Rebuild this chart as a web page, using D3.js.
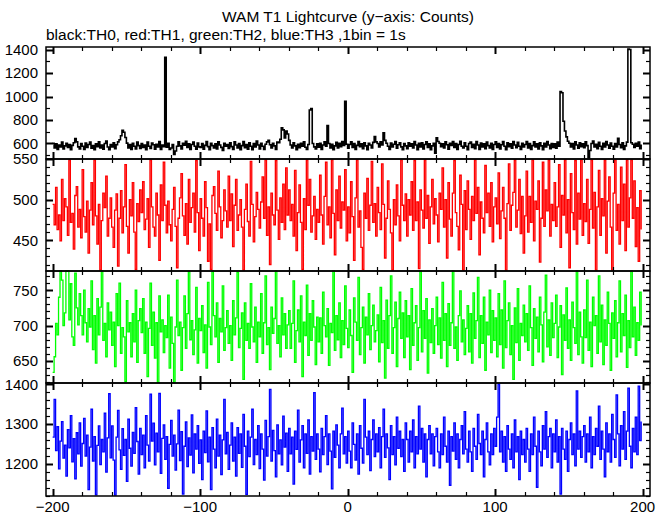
<!DOCTYPE html>
<html><head><meta charset="utf-8">
<script src="https://cdn.jsdelivr.net/npm/d3@7/dist/d3.min.js"></script>
<style>body{margin:0;background:#fff} text{font-family:"Liberation Sans",Arial,Helvetica,sans-serif;fill:#000}</style>
</head><body><svg id="c" width="669" height="515"></svg>
<script>
// time bins (1 bin = 1 s), start of each bin
const binStart = -200;
const titleText = "WAM T1 Lightcurve (y\u2212axis: Counts)";
const subtitleText = "black:TH0, red:TH1, green:TH2, blue:TH3 ,1bin = 1s";

const th0 = [
600,560,595,548,585,570,610,552,578,600,565,590,545,582,605,640,612,570,552,598,
575,548,602,565,590,610,558,580,545,596,572,612,560,585,550,598,620,568,545,590,
570,605,555,588,612,630,665,712,695,650,602,560,590,548,600,575,552,610,580,556,
598,565,585,545,610,575,556,602,588,550,592,570,615,548,586,572,1335,566,600,548,
560,590,505,535,575,612,578,552,600,584,618,565,595,548,590,610,575,550,602,570,
565,598,550,582,615,572,545,600,580,560,595,552,612,585,565,540,600,575,590,556,
605,572,548,612,585,560,598,545,580,615,562,590,550,605,575,545,598,570,620,585,
552,600,575,548,592,612,625,588,560,600,578,548,610,605,635,732,715,645,705,680,
625,585,560,605,578,545,592,562,600,575,612,566,548,590,885,898,598,570,552,595,
566,600,548,585,612,575,752,598,560,592,545,578,608,560,600,572,615,582,958,592,
558,590,612,565,598,548,582,615,572,595,555,605,578,545,600,586,560,608,658,612,
598,570,612,585,690,625,600,575,548,602,568,592,615,558,588,605,570,545,598,578,
555,605,575,595,560,615,585,545,600,570,605,552,590,612,565,596,545,578,600,515,
648,615,600,572,595,560,612,588,550,600,582,615,565,598,548,590,618,575,560,605,
575,545,598,610,565,592,555,615,585,548,602,570,595,555,610,580,560,600,548,590,
612,565,598,552,588,615,575,545,605,572,595,558,615,585,562,608,575,548,600,570,
590,615,560,598,548,580,612,568,595,552,605,578,545,600,570,615,586,555,598,565,
595,558,610,575,1042,1032,788,705,655,618,600,570,598,552,612,585,558,605,572,595,
562,612,580,478,538,598,620,570,592,555,608,575,548,600,570,615,585,558,602,575,
550,598,568,642,590,562,605,548,578,610,1406,1402,605,592,565,600,575,610,555,590];

const th1 = [
494,469,515,463,481,449,525,474,501,491,456,549,472,483,439,505,516,466,488,453,
537,479,460,498,434,487,521,469,549,480,445,494,413,474,508,490,529,455,477,502,
466,441,487,507,418,477,511,459,491,543,467,434,500,480,521,460,414,495,473,512,
484,522,463,476,501,441,549,491,466,455,508,481,425,518,474,546,493,459,498,469,
449,488,515,467,416,477,502,532,480,456,495,445,525,472,490,508,460,548,484,437,
501,477,455,522,490,424,470,414,505,516,483,462,535,491,453,474,512,486,466,529,
474,507,442,493,525,462,481,500,466,413,488,519,473,455,547,494,448,479,509,488,
465,497,528,477,549,456,491,420,508,481,469,548,487,451,502,472,519,463,539,481,
512,474,494,455,536,437,484,518,472,414,501,463,549,493,525,460,480,504,451,488,
472,530,481,445,504,546,469,491,453,549,483,432,512,474,529,465,497,487,537,449,
491,459,522,479,425,502,549,466,486,441,414,508,477,526,462,493,547,472,495,455,
515,484,463,544,494,428,477,523,488,459,413,500,469,518,480,449,549,493,474,507,
455,500,481,522,462,548,474,497,415,512,487,465,549,477,505,446,491,525,470,501,
481,448,508,488,539,466,500,428,521,476,455,508,548,484,467,438,530,494,413,511,
463,523,488,451,504,474,549,483,515,432,497,477,459,542,484,508,467,521,448,491,
502,470,533,452,486,515,477,413,495,544,462,493,509,549,466,487,525,458,504,434,
480,535,460,504,472,549,449,498,488,523,423,477,546,467,512,486,549,455,494,474,
521,467,491,543,441,505,481,549,459,500,416,532,484,463,548,445,508,476,549,456,
495,473,525,446,488,549,465,509,413,491,536,456,501,480,549,434,498,528,466,413,
508,549,462,494,445,540,474,519,437,549,466,502,549,477,523,442,490,424,511,463];

const th2 = [
634,656,703,687,740,777,764,700,718,777,777,708,759,684,672,774,725,701,745,714,
687,750,704,677,724,698,763,666,714,647,738,687,726,777,679,703,656,732,694,719,
672,705,642,745,700,760,661,697,684,621,735,691,704,656,717,677,750,648,707,724,
690,738,661,705,628,696,760,672,719,654,704,620,742,691,708,662,700,683,743,640,
712,675,620,698,764,686,705,637,697,742,668,717,776,680,707,659,694,754,647,710,
693,728,662,701,640,761,698,673,777,714,684,732,648,710,691,756,665,697,721,675,
700,651,735,687,711,775,669,696,718,624,732,679,703,668,759,698,677,726,648,705,
684,745,661,704,770,673,697,638,726,689,710,777,675,700,656,739,687,717,668,701,
721,668,703,763,648,693,722,677,742,628,705,686,757,658,717,679,735,698,645,712,
677,711,661,747,700,684,724,644,703,690,777,665,714,680,732,655,707,673,756,696,
669,722,686,634,739,705,679,768,659,697,726,647,712,687,745,666,700,729,677,693,
715,649,754,676,707,626,736,668,714,770,661,697,733,642,710,747,682,718,655,735,
684,714,638,752,672,704,728,651,697,777,663,721,682,738,633,708,676,724,661,700,
740,673,711,654,761,679,717,642,731,672,704,777,668,698,651,714,749,677,708,659,
696,728,663,717,647,746,682,707,768,655,714,675,740,637,705,687,750,662,721,679,
711,656,745,673,722,640,763,669,707,732,659,700,624,725,676,752,651,703,686,729,
677,717,665,756,697,644,724,682,712,663,740,701,649,719,771,670,708,658,732,683,
703,743,655,698,728,631,715,679,753,668,708,651,733,697,675,777,659,719,684,647,
722,683,764,665,705,642,740,700,714,661,770,677,729,645,708,672,747,703,637,718,
682,735,656,704,763,663,717,686,743,641,707,669,777,684,726,658,704,679,747,700];

const th3 = [
1267,1362,1233,1293,1187,1257,1306,1214,1247,1169,1286,1240,1321,1205,1263,1162,1278,1225,1303,1194,
1251,1314,1219,1272,1135,1242,1337,1207,1268,1122,1246,1295,1198,1261,1230,1327,1179,1265,1376,1215,
1295,1209,1121,1267,1334,1235,1186,1288,1221,1261,1156,1312,1239,1194,1279,1226,1341,1256,1174,1289,
1223,1272,1190,1321,1247,1207,1375,1257,1302,1197,1277,1230,1377,1176,1264,1298,1211,1268,1138,1249,
1309,1219,1272,1184,1250,1335,1208,1281,1124,1244,1305,1193,1265,1222,1323,1177,1275,1237,1296,1201,
1260,1160,1282,1228,1333,1205,1267,1135,1291,1237,1190,1312,1219,1272,1173,1260,1362,1225,1279,1186,
1247,1303,1207,1267,1169,1291,1226,1275,1191,1324,1244,1123,1282,1218,1267,1337,1198,1261,1223,1296,
1188,1275,1237,1159,1309,1219,1268,1387,1207,1284,1233,1167,1298,1225,1260,1197,1320,1242,1277,1181,
1289,1225,1267,1149,1282,1236,1335,1204,1260,1296,1190,1275,1226,1310,1174,1268,1232,1379,1211,1275,
1237,1180,1289,1223,1268,1321,1198,1275,1232,1137,1282,1216,1298,1247,1190,1275,1340,1225,1268,1202,
1282,1232,1190,1303,1249,1209,1275,1174,1296,1239,1202,1362,1267,1223,1282,1183,1261,1310,1218,1275,
1230,1291,1190,1268,1337,1216,1275,1240,1160,1296,1223,1268,1197,1317,1239,1282,1218,1261,1181,1303,
1261,1204,1282,1230,1310,1190,1268,1225,1345,1237,1289,1204,1275,1167,1261,1296,1225,1275,1195,1268,
1289,1230,1190,1275,1223,1317,1244,1204,1282,1146,1268,1232,1303,1211,1275,1190,1261,1296,1225,1331,
1237,1204,1282,1230,1181,1289,1244,1211,1324,1251,1223,1282,1167,1261,1303,1230,1197,1275,1223,1289,
1244,1317,1400,1230,1282,1204,1268,1181,1296,1237,1211,1275,1190,1310,1230,1268,1160,1282,1223,1261,
1204,1289,1237,1181,1275,1223,1317,1244,1141,1282,1230,1195,1296,1237,1331,1216,1268,1289,1190,1275,
1230,1310,1204,1268,1124,1289,1237,1211,1282,1181,1261,1303,1223,1275,1195,1383,1237,1282,1216,1268,
1296,1204,1275,1230,1317,1190,1268,1223,1289,1244,1345,1211,1282,1237,1167,1303,1230,1275,1204,1324,
1261,1216,1373,1275,1195,1296,1237,1331,1211,1282,1390,1244,1190,1289,1230,1317,1223,1395,1258,1306];

const xTickLabels = [-200, -100, 0, 100, 200];
const yTickLabels0 = [600, 800, 1000, 1200, 1400];
const yTickLabels1 = [450, 500, 550];
const yTickLabels2 = [650, 700, 750];
const yTickLabels3 = [1200, 1300, 1400];

const svg = d3.select("#c");
const L = 46, R = 650;
const x = d3.scaleLinear().domain([-204.5, 205]).range([L, R]);

const panels = [
  {data: th0, color: "#000000", domain: [466, 1423], top: 47, bottom: 159, major: 200, minor: 100, labels: yTickLabels0, sw: 1.6},
  {data: th1, color: "#ff0000", domain: [412, 550], top: 159, bottom: 271, major: 50, minor: 10, labels: yTickLabels1, sw: 1.3},
  {data: th2, color: "#00ff00", domain: [619, 777], top: 271, bottom: 383, major: 50, minor: 10, labels: yTickLabels2, sw: 1.3},
  {data: th3, color: "#0000ff", domain: [1119, 1403], top: 383, bottom: 496, major: 100, minor: 20, labels: yTickLabels3, sw: 1.3}
];

panels.forEach(p => {
  const y = d3.scaleLinear().domain(p.domain).range([p.bottom, p.top]);
  p.y = y;
  const pts = p.data.map((v, i) => [binStart + i, v]);
  const line = d3.line().x(d => x(d[0])).y(d => y(d[1])).curve(d3.curveStepAfter);
  svg.append("path").datum(pts).attr("d", line)
    .attr("fill", "none").attr("stroke", p.color).attr("stroke-width", p.sw);
});

panels.forEach(p => {
  const g = svg.append("g");
  const y = p.y;
  const xMinor = d3.range(-200, 201, 20);
  xMinor.forEach(t => {
    const big = t % 100 === 0;
    const len = big ? 7 : 4;
    const xp = Math.round(x(t)) + 0.5;
    g.append("line").attr("x1", xp).attr("x2", xp).attr("y1", p.top).attr("y2", p.top + len)
      .attr("stroke", "#000").attr("stroke-width", big ? 2 : 1.2);
    g.append("line").attr("x1", xp).attr("x2", xp).attr("y1", p.bottom).attr("y2", p.bottom - len)
      .attr("stroke", "#000").attr("stroke-width", big ? 2 : 1.2);
  });
  const lo = Math.ceil(p.domain[0] / p.minor) * p.minor;
  d3.range(lo, p.domain[1] + 0.001, p.minor).forEach(t => {
    const big = Math.abs(t % p.major) < 1e-6;
    const len = big ? 7 : 4;
    const yp = Math.round(y(t)) + 0.5;
    g.append("line").attr("x1", L).attr("x2", L + len).attr("y1", yp).attr("y2", yp)
      .attr("stroke", "#000").attr("stroke-width", big ? 2 : 1.2);
    g.append("line").attr("x1", R).attr("x2", R - len).attr("y1", yp).attr("y2", yp)
      .attr("stroke", "#000").attr("stroke-width", big ? 2 : 1.2);
  });
  g.append("rect").attr("x", L).attr("y", p.top).attr("width", R - L).attr("height", p.bottom - p.top)
    .attr("fill", "none").attr("stroke", "#000").attr("stroke-width", 1.5);
  p.labels.forEach(t => {
    svg.append("text").attr("x", 38).attr("y", y(t)).attr("dy", "0.36em")
      .attr("text-anchor", "end").attr("font-size", 15).text(t);
  });
});

const fmt = d3.format("");
xTickLabels.forEach(t => {
  svg.append("text").attr("x", x(t)).attr("y", 512).attr("text-anchor", "middle")
    .attr("font-size", 15).text(fmt(t));
});

svg.append("text").attr("x", 348).attr("y", 22).attr("text-anchor", "middle")
  .attr("font-size", 15.5).text(titleText);
svg.append("text").attr("x", 46).attr("y", 40).attr("text-anchor", "start")
  .attr("font-size", 15.5).text(subtitleText);
</script></body></html>
